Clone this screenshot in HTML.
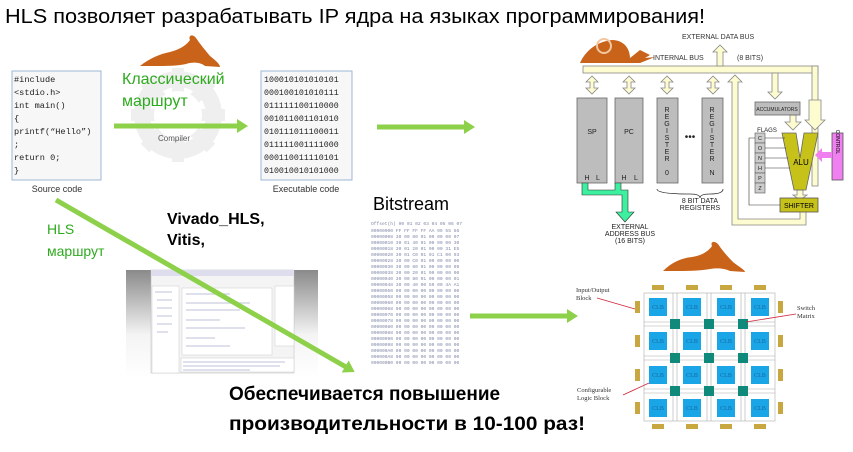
<!DOCTYPE html>
<html><head><meta charset="utf-8"><style>
html,body{margin:0;padding:0;background:#fff;width:853px;height:452px;overflow:hidden}
svg{display:block}
.t{font-family:"Liberation Sans",sans-serif}
.m{font-family:"Liberation Mono",monospace}
.s{font-family:"Liberation Serif",serif}
</style></head><body>
<svg width="853" height="452" viewBox="0 0 853 452" xmlns="http://www.w3.org/2000/svg">
<defs>
<linearGradient id="gg" x1="0" y1="0" x2="0" y2="1"><stop offset="0" stop-color="#8a8a8a"/><stop offset="0.6" stop-color="#f4f4f4"/><stop offset="1" stop-color="#fff"/></linearGradient>
<marker id="ah" markerWidth="11" markerHeight="14" refX="1" refY="7" orient="auto" markerUnits="userSpaceOnUse"><path d="M0,0 L11,7 L0,14 z" fill="#8dd04a"/></marker>
</defs>
<text x="5" y="23" class="t" font-size="20" textLength="700" lengthAdjust="spacingAndGlyphs">HLS позволяет разрабатывать IP ядра на языках программирования!</text>

<!-- gear -->
<g fill="none" stroke="#efefef" stroke-width="16"><circle cx="178" cy="115" r="36"/></g>
<g stroke="#efefef" stroke-width="12"><line x1="178" y1="68" x2="178" y2="162"/><line x1="131" y1="115" x2="225" y2="115"/><line x1="145" y1="82" x2="211" y2="148"/><line x1="211" y1="82" x2="145" y2="148"/></g>
<circle cx="178" cy="115" r="24" fill="#fff"/>
<!-- rabbit 1 -->
<path d="M140,66 C150,58 160,54 170,52 C178,50 186,46 190,40 C188,36 192,33 196,38 C200,44 205,50 210,56 C215,60 220,64 220,67 L205,66 C200,62 192,62 186,64 C178,66 165,66 155,66 Z" fill="#c9631a"/>

<text x="122" y="84" class="t" font-size="16" fill="#2eaa1f">Классический</text>
<text x="122" y="106" class="t" font-size="16" fill="#2eaa1f">маршрут</text>
<text x="158" y="141" class="t" font-size="8" fill="#555">Compiler</text>

<rect x="12" y="71" width="89" height="109" fill="#f7f7f7" stroke="#9bb7d6"/>
<g class="m" font-size="8.6" fill="#222">
<text x="14" y="82">#include</text><text x="14" y="95">&lt;stdio.h&gt;</text><text x="14" y="108">int main()</text><text x="14" y="121">{</text><text x="14" y="134">printf(“Hello”)</text><text x="14" y="147">;</text><text x="14" y="160">return 0;</text><text x="14" y="173">}</text>
</g>
<text x="57" y="192" class="t" font-size="9" fill="#333" text-anchor="middle">Source code</text>

<rect x="261" y="71" width="91" height="109" fill="#f7f7f7" stroke="#9bb7d6"/>
<g class="m" font-size="8.3" fill="#222">
<text x="264" y="82">100010101010101</text><text x="264" y="95">000100101010111</text><text x="264" y="108">011111100110000</text><text x="264" y="121">001011001101010</text><text x="264" y="134">010111011100011</text><text x="264" y="147">011111001111000</text><text x="264" y="160">000110011110101</text><text x="264" y="173">010010010101000</text>
</g>
<text x="306" y="192" class="t" font-size="9" fill="#333" text-anchor="middle">Executable code</text>

<line x1="114" y1="126" x2="238" y2="126" stroke="#8dd04a" stroke-width="5" marker-end="url(#ah)"/>
<line x1="377" y1="127" x2="465" y2="127" stroke="#8dd04a" stroke-width="5" marker-end="url(#ah)"/>

<!-- CPU diagram -->
<path d="M580,63 C585,52 595,42 612,40 C625,40 630,50 630,58 L640,50 L650,55 L645,58 L655,57 L640,63 Z" fill="#c9631a"/>
<circle cx="604" cy="46" r="7" fill="none" stroke="#f1c7a0" stroke-width="2"/>
<text x="682" y="39" class="t" font-size="7" fill="#333">EXTERNAL DATA BUS</text>
<text x="653" y="60" class="t" font-size="7" fill="#333">INTERNAL BUS</text>
<text x="737" y="60" class="t" font-size="7" fill="#333">(8 BITS)</text>
<g fill="#fdfbd0" stroke="#888" stroke-width="0.8">
<rect x="583" y="66" width="235" height="7"/>
<rect x="812" y="66" width="6" height="120"/>
<path d="M717,66 L717,52 L713,52 L720,45 L727,52 L723,52 L723,66 Z"/>
<path d="M732,225 L732,82 L728,82 L735,75 L742,82 L738,82 L738,219 L800,219 L800,210 L806,210 L806,225 Z"/>
<path d="M772,73 L772,92 L768,92 L775,99 L782,92 L778,92 L778,73 Z"/>
<path d="M809,100 L809,120 L805,120 L815,130 L825,120 L821,120 L821,100 Z"/>
<path d="M790,115 L790,122 L785,122 L793,130 L801,122 L796,122 L796,115 Z"/>
<path d="M797,190 L797,195 L793,195 L800,200 L807,195 L803,195 L803,190 Z"/>
<path d="M592,76 L586,82 L590,82 L590,88 L586,88 L592,94 L598,88 L594,88 L594,82 L598,82 Z"/>
<path d="M629,76 L623,82 L627,82 L627,88 L623,88 L629,94 L635,88 L631,88 L631,82 L635,82 Z"/>
<path d="M667,76 L661,82 L665,82 L665,88 L661,88 L667,94 L673,88 L669,88 L669,82 L673,82 Z"/>
<path d="M713,76 L707,82 L711,82 L711,88 L707,88 L713,94 L719,88 L715,88 L715,82 L719,82 Z"/>
</g>
<g fill="#bdbdbd" stroke="#666" stroke-width="0.8">
<rect x="577" y="98" width="30" height="85"/><rect x="615" y="98" width="28" height="85"/>
<rect x="657" y="98" width="21" height="85"/><rect x="702" y="98" width="21" height="85"/>
<rect x="755" y="102" width="45" height="13"/>
</g>
<g class="t" font-size="7" fill="#222" text-anchor="middle">
<text x="592" y="134">SP</text><text x="629" y="134">PC</text>
<text x="587" y="180">H</text><text x="598" y="180">L</text><text x="624" y="180">H</text><text x="636" y="180">L</text>
<text x="667" y="112">R</text><text x="667" y="119">E</text><text x="667" y="126">G</text><text x="667" y="133">I</text><text x="667" y="140">S</text><text x="667" y="147">T</text><text x="667" y="154">E</text><text x="667" y="161">R</text><text x="667" y="175">0</text>
<text x="712" y="112">R</text><text x="712" y="119">E</text><text x="712" y="126">G</text><text x="712" y="133">I</text><text x="712" y="140">S</text><text x="712" y="147">T</text><text x="712" y="154">E</text><text x="712" y="161">R</text><text x="712" y="175">N</text>
<text x="690" y="140" font-size="10">•••</text>
<text x="777" y="111" font-size="5">ACCUMULATORS</text>
<text x="767" y="132" font-size="6">FLAGS</text>
<text x="700" y="203">8 BIT DATA</text><text x="700" y="210">REGISTERS</text>
<text x="630" y="229">EXTERNAL</text><text x="630" y="236">ADDRESS BUS</text><text x="630" y="243">(16 BITS)</text>
</g>
<path d="M657,189 Q657,194 690,194 Q700,194 700,198 Q700,194 710,194 Q723,194 723,189" fill="none" stroke="#333" stroke-width="0.8"/>
<path d="M582,183 L582,195 L622,195 L622,212 L616,212 L625,222 L634,212 L628,212 L628,190 L621,190 L621,183 L615,183 L615,190 L588,190 L588,183 Z" fill="#3df0a0" stroke="#333" stroke-width="0.6"/>
<g fill="#ccc" stroke="#555" stroke-width="0.6">
<rect x="755" y="133" width="10" height="10"/><rect x="755" y="143" width="10" height="10"/><rect x="755" y="153" width="10" height="10"/><rect x="755" y="163" width="10" height="10"/><rect x="755" y="173" width="10" height="10"/><rect x="755" y="183" width="10" height="10"/>
</g>
<g class="t" font-size="5.5" fill="#222" text-anchor="middle"><text x="760" y="140">C</text><text x="760" y="150">O</text><text x="760" y="160">N</text><text x="760" y="170">H</text><text x="760" y="180">P</text><text x="760" y="190">Z</text></g>
<path d="M782,133 L796,133 L800,158 L804,133 L818,133 L806,190 L794,190 Z" fill="#c6c21a" stroke="#666" stroke-width="0.8"/>
<text x="801" y="165" class="t" font-size="8" text-anchor="middle">ALU</text>
<rect x="832" y="133" width="11" height="47" fill="#f07ff0" stroke="#555" stroke-width="0.8"/>
<text x="837" y="142" class="t" font-size="5" text-anchor="middle" writing-mode="tb">CONTROL</text>
<path d="M832,152 L822,152 L822,148 L815,155 L822,162 L822,158 L832,158 Z" fill="#f07ff0"/>
<rect x="780" y="198" width="38" height="14" fill="#c6c21a" stroke="#555" stroke-width="0.8"/>
<text x="799" y="208" class="t" font-size="7" text-anchor="middle">SHIFTER</text>
<g stroke="#333" stroke-width="0.6" fill="none"><line x1="785" y1="138" x2="765" y2="138"/><line x1="786" y1="148" x2="765" y2="148"/><line x1="788" y1="158" x2="765" y2="158"/><line x1="790" y1="168" x2="765" y2="168"/><path d="M780,205 L749,205 L749,138 L755,138"/></g>

<!-- Bitstream -->
<text x="373" y="210" class="t" font-size="18">Bitstream</text>
<g class="m" font-size="4.6" fill="#8088a8">
<text x="371" y="225">Offset(h)  00 01 02 03 04 05 06 07</text>
<text x="371" y="232">00000000   FF FF FF FF AA 99 55 66</text>
<text x="371" y="238">00000008   30 00 80 01 00 00 00 07</text>
<text x="371" y="244">00000010   30 01 40 01 00 00 00 30</text>
<text x="371" y="250">00000018   30 01 20 01 00 00 31 E5</text>
<text x="371" y="256">00000020   30 01 C0 01 01 C1 00 93</text>
<text x="371" y="262">00000028   30 00 C0 01 00 00 00 00</text>
<text x="371" y="268">00000030   30 00 80 01 00 00 00 09</text>
<text x="371" y="274">00000038   30 00 20 01 00 00 00 00</text>
<text x="371" y="280">00000040   30 00 80 01 00 00 00 01</text>
<text x="371" y="286">00000048   30 00 40 00 50 00 4A A1</text>
<text x="371" y="292">00000050   00 00 00 00 00 00 00 00</text>
<text x="371" y="298">00000058   00 00 00 00 00 00 00 00</text>
<text x="371" y="304">00000060   00 00 00 00 00 00 00 00</text>
<text x="371" y="310">00000068   00 00 00 00 00 00 00 00</text>
<text x="371" y="316">00000070   00 00 00 00 00 00 00 00</text>
<text x="371" y="322">00000078   00 00 00 00 00 00 00 00</text>
<text x="371" y="328">00000080   00 00 00 00 00 00 00 00</text>
<text x="371" y="334">00000088   00 00 00 00 00 00 00 00</text>
<text x="371" y="340">00000090   00 00 00 00 00 00 00 00</text>
<text x="371" y="346">00000098   00 00 00 00 00 00 00 00</text>
<text x="371" y="352">000000A0   00 00 00 00 00 00 00 00</text>
<text x="371" y="358">000000A8   00 00 00 00 00 00 00 00</text>
<text x="371" y="364">000000B0   00 00 00 00 00 00 00 00</text>
</g>

<text x="167" y="224" class="t" font-size="16" font-weight="bold">Vivado_HLS,</text>
<text x="167" y="245" class="t" font-size="16" font-weight="bold">Vitis,</text>
<text x="47" y="234" class="t" font-size="14" fill="#2eaa1f">HLS</text>
<text x="47" y="256" class="t" font-size="14" fill="#2eaa1f">маршрут</text>

<!-- screenshot -->
<rect x="126" y="270" width="192" height="108" fill="url(#gg)"/>
<rect x="151" y="270" width="143" height="103" fill="#f4f4f4" stroke="#bbb" stroke-width="0.5"/>
<rect x="151" y="270" width="143" height="6" fill="#dde"/>
<rect x="152" y="286" width="27" height="87" fill="#fff" stroke="#ccc" stroke-width="0.5"/>
<rect x="182" y="288" width="90" height="67" fill="#fff" stroke="#ccc" stroke-width="0.5"/>
<rect x="275" y="286" width="19" height="60" fill="#fff" stroke="#ccc" stroke-width="0.5"/>
<rect x="181" y="358" width="113" height="14" fill="#fff" stroke="#ccc" stroke-width="0.5"/>
<g stroke="#c9cde0" stroke-width="1.2">
<line x1="186" y1="294" x2="230" y2="294"/><line x1="186" y1="303" x2="250" y2="303"/><line x1="186" y1="310" x2="240" y2="310"/><line x1="186" y1="320" x2="220" y2="320"/><line x1="186" y1="328" x2="245" y2="328"/><line x1="186" y1="338" x2="215" y2="338"/><line x1="186" y1="346" x2="230" y2="346"/>
<line x1="183" y1="362" x2="285" y2="362"/><line x1="183" y1="366" x2="280" y2="366"/><line x1="183" y1="370" x2="250" y2="370"/>
<line x1="155" y1="292" x2="172" y2="292"/><line x1="157" y1="300" x2="172" y2="300"/><line x1="157" y1="308" x2="172" y2="308"/><line x1="157" y1="316" x2="172" y2="316"/><line x1="157" y1="324" x2="172" y2="324"/><line x1="157" y1="332" x2="168" y2="332"/>
</g>

<line x1="56" y1="200" x2="346" y2="367" stroke="#8dd04a" stroke-width="5" marker-end="url(#ah)"/>
<line x1="470" y1="316" x2="568" y2="316" stroke="#8dd04a" stroke-width="5" marker-end="url(#ah)"/>

<text x="229" y="400" class="t" font-size="19" font-weight="bold">Обеспечивается повышение</text>
<text x="229" y="430" class="t" font-size="19" font-weight="bold" textLength="356" lengthAdjust="spacingAndGlyphs">производительности в 10-100 раз!</text>

<!-- rabbit 2 -->
<path d="M663,271 C672,262 682,258 692,257 C700,256 708,252 712,246 C710,242 714,240 718,244 C722,250 727,256 733,262 C738,266 745,270 745,272 L730,271 C724,268 716,268 710,269 C700,271 685,271 675,271 Z" fill="#c9631a"/>

<!-- FPGA -->
<rect x="644" y="293" width="131" height="128" fill="#fff" stroke="#ccc"/>
<g stroke="#aaa" stroke-width="0.6">
<line x1="644" y1="322" x2="775" y2="322"/><line x1="644" y1="326" x2="775" y2="326"/><line x1="644" y1="356" x2="775" y2="356"/><line x1="644" y1="360" x2="775" y2="360"/><line x1="644" y1="389" x2="775" y2="389"/><line x1="644" y1="393" x2="775" y2="393"/>
<line x1="673" y1="293" x2="673" y2="421"/><line x1="677" y1="293" x2="677" y2="421"/><line x1="707" y1="293" x2="707" y2="421"/><line x1="711" y1="293" x2="711" y2="421"/><line x1="741" y1="293" x2="741" y2="421"/><line x1="745" y1="293" x2="745" y2="421"/>
</g>
<g fill="#1aa6e6">
<rect x="649" y="298" width="18" height="18"/><rect x="683" y="298" width="18" height="18"/><rect x="717" y="298" width="18" height="18"/><rect x="751" y="298" width="18" height="18"/>
<rect x="649" y="332" width="18" height="18"/><rect x="683" y="332" width="18" height="18"/><rect x="717" y="332" width="18" height="18"/><rect x="751" y="332" width="18" height="18"/>
<rect x="649" y="366" width="18" height="18"/><rect x="683" y="366" width="18" height="18"/><rect x="717" y="366" width="18" height="18"/><rect x="751" y="366" width="18" height="18"/>
<rect x="649" y="399" width="18" height="18"/><rect x="683" y="399" width="18" height="18"/><rect x="717" y="399" width="18" height="18"/><rect x="751" y="399" width="18" height="18"/>
</g>
<g fill="#0f8a7a">
<rect x="670" y="319" width="10" height="10"/><rect x="704" y="319" width="10" height="10"/><rect x="738" y="319" width="10" height="10"/>
<rect x="670" y="353" width="10" height="10"/><rect x="704" y="353" width="10" height="10"/><rect x="738" y="353" width="10" height="10"/>
<rect x="670" y="386" width="10" height="10"/><rect x="704" y="386" width="10" height="10"/><rect x="738" y="386" width="10" height="10"/>
</g>
<g class="s" font-size="6" fill="#1566a0" text-anchor="middle">
<text x="658" y="309">CLB</text><text x="692" y="309">CLB</text><text x="726" y="309">CLB</text><text x="760" y="309">CLB</text>
<text x="658" y="343">CLB</text><text x="692" y="343">CLB</text><text x="726" y="343">CLB</text><text x="760" y="343">CLB</text>
<text x="658" y="377">CLB</text><text x="692" y="377">CLB</text><text x="726" y="377">CLB</text><text x="760" y="377">CLB</text>
<text x="658" y="410">CLB</text><text x="692" y="410">CLB</text><text x="726" y="410">CLB</text><text x="760" y="410">CLB</text>
</g>
<g fill="#c8a640">
<rect x="652" y="285" width="12" height="5"/><rect x="686" y="285" width="12" height="5"/><rect x="720" y="285" width="12" height="5"/><rect x="754" y="285" width="12" height="5"/>
<rect x="652" y="424" width="12" height="5"/><rect x="686" y="424" width="12" height="5"/><rect x="720" y="424" width="12" height="5"/><rect x="754" y="424" width="12" height="5"/>
<rect x="635" y="301" width="5" height="12"/><rect x="635" y="335" width="5" height="12"/><rect x="635" y="369" width="5" height="12"/><rect x="635" y="402" width="5" height="12"/>
<rect x="778" y="301" width="5" height="12"/><rect x="778" y="335" width="5" height="12"/><rect x="778" y="369" width="5" height="12"/><rect x="778" y="402" width="5" height="12"/>
</g>
<g class="s" font-size="6.5" fill="#333">
<text x="576" y="292">Input/Output</text><text x="576" y="300">Block</text>
<text x="797" y="310">Switch</text><text x="797" y="318">Matrix</text>
<text x="577" y="392">Configurable</text><text x="577" y="400">Logic Block</text>
</g>
<g stroke="#d0243a" stroke-width="0.8"><line x1="597" y1="298" x2="635" y2="309"/><line x1="796" y1="314" x2="746" y2="322"/><line x1="623" y1="395" x2="649" y2="383"/></g>
</svg>
</body></html>
